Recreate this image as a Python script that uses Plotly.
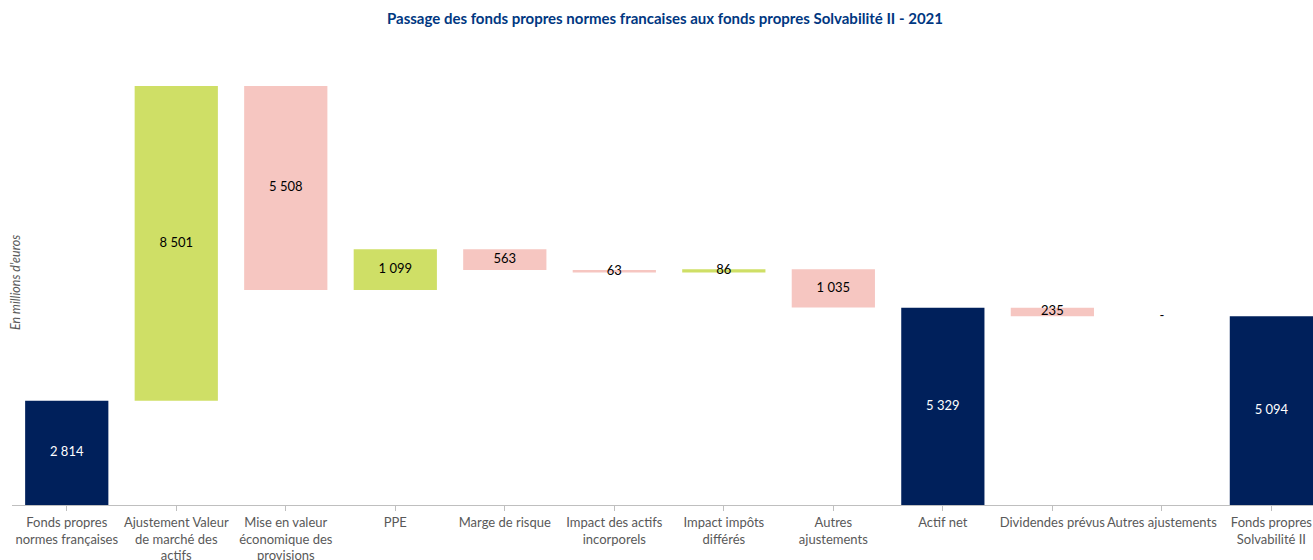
import plotly.graph_objects as go

categories = [
    "Fonds propres<br>normes françaises",
    "Ajustement Valeur<br>de marché des<br>actifs",
    "Mise en valeur<br>économique des<br>provisions",
    "PPE",
    "Marge de risque",
    "Impact des actifs<br>incorporels",
    "Impact impôts<br>différés",
    "Autres<br>ajustements",
    "Actif net",
    "Dividendes prévus",
    "Autres ajustements",
    "Fonds propres<br>Solvabilité II",
]
values = [2814, 8501, -5508, 1099, -563, -63, 86, -1035, 5329, -235, 0, 5094]
kinds = ["total", "rel", "rel", "rel", "rel", "rel", "rel", "rel", "total", "rel", "rel", "total"]
labels = ["2 814", "8 501", "5 508", "1 099", "563", "63", "86", "1 035", "5 329", "235", "-", "5 094"]

NAVY = "#00205b"
GREEN = "#cfdf66"
PINK = "#f6c6c1"

bases, heights, colors, mids, tcolors = [], [], [], [], []
running = 0
for v, k in zip(values, kinds):
    if k == "total":
        b, h = 0, v
        running = v
        c = NAVY
        tc = "white"
    else:
        if v >= 0:
            b, h = running, v
            c = GREEN
        else:
            b, h = running + v, -v
            c = PINK
        running += v
        tc = "black"
    bases.append(b)
    heights.append(h)
    colors.append(c)
    mids.append(b + h / 2)
    tcolors.append(tc)

xs = list(range(len(categories)))

W, H = 1313, 560

fig = go.Figure()
fig.add_trace(go.Bar(
    x=xs, y=heights, base=bases, width=0.76,
    marker=dict(color=colors, line=dict(width=0)),
    hoverinfo="skip", showlegend=False,
))
fig.add_trace(go.Scatter(
    x=xs, y=mids, mode="text", text=labels,
    textposition="middle center",
    textfont=dict(family="Lato", size=13, color=tcolors),
    hoverinfo="skip", showlegend=False,
))

fig.update_layout(
    width=W, height=H,
    margin=dict(l=12, r=0, t=50, b=55),
    paper_bgcolor="white", plot_bgcolor="white",
    title=dict(
        text="Passage des fonds propres normes francaises aux fonds propres Solvabilité II - 2021",
        x=665 / W, xanchor="center", y=1 - 19 / H, yanchor="middle",
        font=dict(family="Lato", size=15, color="#003781", weight="bold"),
    ),
    xaxis=dict(
        range=[-0.5, 11.38],
        tickmode="array", tickvals=xs, ticktext=categories,
        tickangle=0, automargin=False,
        ticks="outside", tickson="boundaries", ticklen=5, tickcolor="#bfbfbf",
        showline=True, linecolor="#bfbfbf", linewidth=1,
        showgrid=False, zeroline=False,
        tickfont=dict(family="Lato", size=13, color="#595959"),
        fixedrange=True,
    ),
    yaxis=dict(
        range=[0, 12287], visible=False, showgrid=False, zeroline=False,
        fixedrange=True,
    ),
    annotations=[dict(
        text="<i>En millions d'euros</i>",
        xref="paper", yref="paper", x=0, y=(505 - 283) / 455,
        xanchor="center", yanchor="middle", xshift=3, textangle=-90,
        showarrow=False,
        font=dict(family="Lato", size=12.5, color="#595959"),
    )],
)

fig.write_html(
    "out.html",
    config={"displayModeBar": False},
    post_script="document.body.style.margin='0';document.body.style.overflow='hidden';",
)
